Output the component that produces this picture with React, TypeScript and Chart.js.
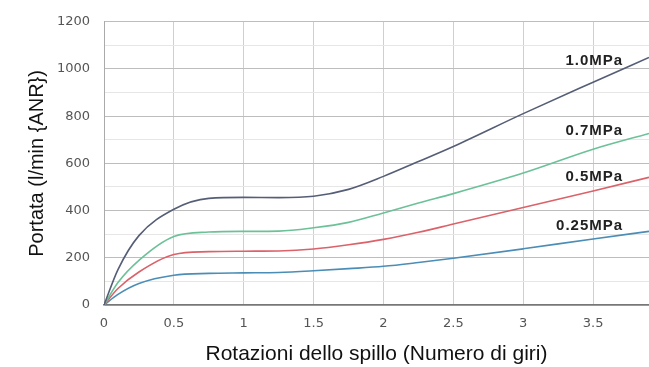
import React, { useEffect, useRef } from "react";
import { Chart, registerables } from "chart.js";

Chart.register(...registerables);

const xValues = [0, 0.1, 0.25, 0.5, 0.75, 1, 1.25, 1.5, 1.75, 2, 2.25, 2.5, 3, 3.5, 3.9];
const seriesNames = ["1.0MPa", "0.7MPa", "0.5MPa", "0.25MPa"];
const flow10 = [0, 150, 294, 406, 452, 456, 455, 461, 490, 545, 608, 672, 811, 944, 1049];
const flow07 = [0, 95, 189, 290, 309, 312, 313, 327, 350, 390, 432, 472, 559, 660, 727];
const flow05 = [0, 70, 140, 214, 226, 228, 229, 237, 255, 278, 308, 343, 413, 483, 541];
const flow025 = [0, 45, 91, 126, 134, 136, 138, 145, 154, 164, 180, 198, 238, 280, 312];
const seriesColors = ["#555e76", "#6cc198", "#db6269", "#4b8db6"];
const labelX = [3.715, 3.715, 3.715, 3.715];
const labelY = [1036, 738, 545, 336];
const yTicks = [0, 200, 400, 600, 800, 1000, 1200];
const xTicks = [0, 0.5, 1, 1.5, 2, 2.5, 3, 3.5];

const labelPlugin = {
  id: "seriesLabels",
  afterDatasetsDraw(chart: any) {
    const { ctx, scales } = chart;
    ctx.save();
    ctx.font = "bold 15px 'Liberation Sans', Arial, sans-serif";
    (ctx as any).letterSpacing = "1px";
    ctx.fillStyle = "#222";
    ctx.textAlign = "right";
    ctx.textBaseline = "middle";
    seriesNames.forEach((name, i) => {
      ctx.fillText(name, scales.x.getPixelForValue(labelX[i]), scales.y.getPixelForValue(labelY[i]));
    });
    ctx.restore();
  },
};

export default function App() {
  const ref = useRef<HTMLCanvasElement>(null);
  useEffect(() => {
    if (!ref.current) return;
    const all = [flow10, flow07, flow05, flow025];
    const chart = new Chart(ref.current, {
      type: "line",
      data: {
        datasets: all.map((arr, i) => ({
          label: seriesNames[i],
          data: arr.map((v, j) => ({ x: xValues[j], y: v })),
          borderColor: seriesColors[i],
          borderWidth: 1.6,
          pointRadius: 0,
          fill: false,
          cubicInterpolationMode: "monotone" as const,
        })),
      },
      options: {
        responsive: false,
        animation: false,
        layout: { padding: { top: 19, right: 0, left: 0, bottom: 0 } },
        plugins: { legend: { display: false }, tooltip: { enabled: false } },
        scales: {
          x: {
            type: "linear",
            min: 0,
            max: 3.9,
            afterFit: (s: any) => { s.height = 62; },
            afterBuildTicks: (s: any) => { s.ticks = xTicks.map((v) => ({ value: v })); },
            ticks: {
              padding: 11,
              color: "#555",
              font: { family: "'DejaVu Sans', Verdana, sans-serif", size: 13 },
              callback: (v: any) => String(v),
              maxRotation: 0,
            },
            grid: { color: "#cfcfcf", drawTicks: false, lineWidth: 1 },
            border: { color: "#777", width: 1.5 },
            title: {
              display: true,
              text: "Rotazioni dello spillo (Numero di giri)",
              color: "#111",
              font: { family: "'Liberation Sans', Arial, sans-serif", size: 21, weight: "normal" },
              padding: { top: 0, bottom: 0 },
            },
          },
          y: {
            type: "linear",
            min: 0,
            max: 1200,
            afterFit: (s: any) => { s.width = 104; },
            afterBuildTicks: (s: any) => {
              const t: any[] = [];
              for (let v = 0; v <= 1200; v += 100) t.push({ value: v });
              s.ticks = t;
            },
            ticks: {
              padding: 14,
              color: "#555",
              font: { family: "'DejaVu Sans', Verdana, sans-serif", size: 13 },
              callback: (v: any) => (yTicks.includes(Number(v)) ? String(v) : ""),
            },
            grid: {
              drawTicks: false,
              color: (c: any) => (c.tick && c.tick.value % 200 === 0 ? "#bdbdbd" : "#e6e6e6"),
            },
            border: { color: "#aaa", width: 1 },
            title: {
              display: true,
              text: "Portata (l/min {ANR})",
              color: "#111",
              font: { family: "'Liberation Sans', Arial, sans-serif", size: 20, weight: "normal" },
              padding: { top: 25, bottom: 0 },
            },
          },
        },
      },
      plugins: [labelPlugin],
    });
    return () => chart.destroy();
  }, []);
  return (
    <div style={{ position: "fixed", left: 0, top: 0, width: 649, height: 367, background: "#fff" }}>
      <canvas ref={ref} width={649} height={367} />
    </div>
  );
}
